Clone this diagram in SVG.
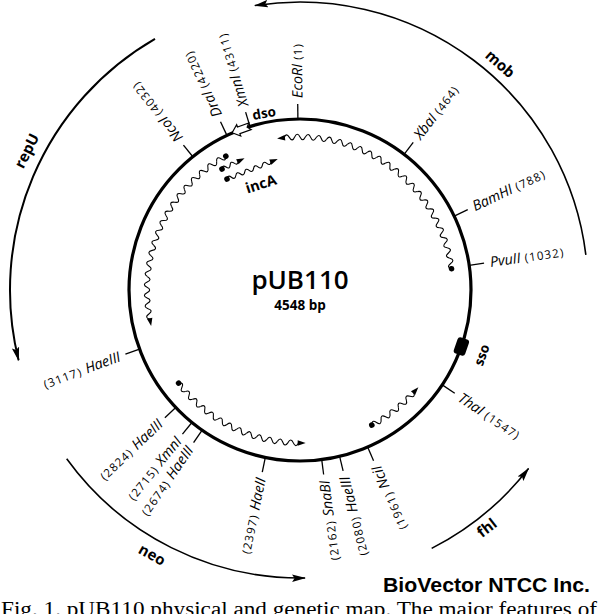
<svg xmlns="http://www.w3.org/2000/svg" xmlns:xlink="http://www.w3.org/1999/xlink" width="598" height="614" viewBox="0 0 598 614">
<style>
.lbl{font-family:"Open Sans","DejaVu Sans",sans-serif;font-size:14.3px;fill:#000}
.nm{font-style:italic}
.num{font-size:11.5px;letter-spacing:1.2px;font-style:normal}
.bold{font-family:"Open Sans","DejaVu Sans",sans-serif;font-weight:bold;fill:#000}
.tick{stroke:#000;stroke-width:1.3;fill:none}
.gene{stroke:#000;stroke-width:1.6;fill:none;marker-end:url(#ga)}
.wave{stroke:#000;stroke-width:1.1;fill:none}
</style>
<defs>
<marker id="ga" markerUnits="userSpaceOnUse" markerWidth="15" markerHeight="9" refX="13" refY="4.5" orient="auto">
<path d="M0,0.8 L14,4.5 L0,8.2 L2.5,4.5 Z" fill="#000"/>
</marker>
<path id="wv" d="M294.66 137 Q297.33 131.6 300 137 Q302.67 142.4 305.34 137" class="wave"/>
<path id="ta" d="M-1,-2.8 L7,0 L-1,2.8 Z" fill="#000"/>
</defs>
<rect width="598" height="614" fill="#fff"/>

<!-- gene arcs -->
<g id="connectors">
<path id="arc-mob" class="gene" d="M585.85 254.9 A288 288 0 0 0 254.95 5.55"/>
<path id="arc-repU" class="gene" style="stroke-width:2" d="M155 38.85 A290 290 0 0 0 18.61 360.16"/>
<path id="arc-neo" class="gene" d="M66.69 458.84 A288 288 0 0 0 305.03 577.96"/>
<path id="arc-fhl" class="gene" d="M431.66 548.39 A290 290 0 0 0 528.52 468.54"/>
</g>

<!-- plasmid backbone -->
<g id="backbone">
<circle cx="300" cy="290" r="171" fill="none" stroke="#000" stroke-width="3.2"/>
</g>

<!-- restriction sites -->
<g id="sites">
<g id="site-EcoRI"><line class="tick" x1="300" y1="119" x2="300" y2="104" transform="rotate(-0.7 300 290)"/>
<text class="lbl" x="492" y="294.8" transform="rotate(-90.7 300 290)"><tspan class="nm">EcoRI</tspan><tspan class="num"> (1)</tspan></text></g>
<g id="site-XbaI"><line class="tick" x1="300" y1="119" x2="300" y2="104" transform="rotate(37.5 300 290)"/>
<text class="lbl" x="492" y="294.8" transform="rotate(-52.5 300 290)"><tspan class="nm">XbaI</tspan><tspan class="num"> (464)</tspan></text></g>
<g id="site-BamHI"><line class="tick" x1="300" y1="119" x2="300" y2="104" transform="rotate(64.4 300 290)"/>
<text class="lbl" x="492" y="294.8" transform="rotate(-25.6 300 290)"><tspan class="nm">BamHI</tspan><tspan class="num"> (788)</tspan></text></g>
<g id="site-PvuII"><line class="tick" x1="300" y1="119" x2="300" y2="104" transform="rotate(81.7 300 290)"/>
<text class="lbl" x="492" y="294.8" transform="rotate(-8.3 300 290)"><tspan class="nm">PvuII</tspan><tspan class="num"> (1032)</tspan></text></g>
<g id="site-ThaI"><line class="tick" x1="300" y1="119" x2="300" y2="104" transform="rotate(123.7 300 290)"/>
<text class="lbl" x="492" y="294.8" transform="rotate(33.7 300 290)"><tspan class="nm">ThaI</tspan><tspan class="num"> (1547)</tspan></text></g>
<g id="site-NciI"><line class="tick" x1="300" y1="119" x2="300" y2="104" transform="rotate(156.7 300 290)"/>
<text class="lbl" x="108" y="294.8" text-anchor="end" transform="rotate(246.7 300 290)"><tspan class="num">(1961) </tspan><tspan class="nm">NciI</tspan></text></g>
<g id="site-HaeIII-2080"><line class="tick" x1="300" y1="119" x2="300" y2="104" transform="rotate(166.6 300 290)"/>
<text class="lbl" x="108" y="294.8" text-anchor="end" transform="rotate(256.6 300 290)"><tspan class="num">(2080) </tspan><tspan class="nm">HaeIII</tspan></text></g>
<g id="site-SnaBI"><line class="tick" x1="300" y1="119" x2="300" y2="104" transform="rotate(172.7 300 290)"/>
<text class="lbl" x="108" y="294.8" text-anchor="end" transform="rotate(262.7 300 290)"><tspan class="num">(2162) </tspan><tspan class="nm">SnaBI</tspan></text></g>
<g id="site-HaeII"><line class="tick" x1="300" y1="119" x2="300" y2="104" transform="rotate(191.7 300 290)"/>
<text class="lbl" x="108" y="294.8" text-anchor="end" transform="rotate(281.7 300 290)"><tspan class="num">(2397) </tspan><tspan class="nm">HaeII</tspan></text></g>
<g id="site-HaeIII-2674"><line class="tick" x1="300" y1="119" x2="300" y2="104" transform="rotate(214.9 300 290)"/>
<text class="lbl" x="108" y="294.8" text-anchor="end" transform="rotate(304.9 300 290)"><tspan class="num">(2674) </tspan><tspan class="nm">HaeIII</tspan></text></g>
<g id="site-XmnI-2715"><line class="tick" x1="300" y1="119" x2="300" y2="104" transform="rotate(219.2 300 290)"/>
<text class="lbl" x="108" y="294.8" text-anchor="end" transform="rotate(309.2 300 290)"><tspan class="num">(2715) </tspan><tspan class="nm">XmnI</tspan></text></g>
<g id="site-HaeIII-2824"><line class="tick" x1="300" y1="119" x2="300" y2="104" transform="rotate(226.6 300 290)"/>
<text class="lbl" x="108" y="294.8" text-anchor="end" transform="rotate(316.6 300 290)"><tspan class="num">(2824) </tspan><tspan class="nm">HaeIII</tspan></text></g>
<g id="site-HaeIII-3117"><line class="tick" x1="300" y1="119" x2="300" y2="104" transform="rotate(249.8 300 290)"/>
<text class="lbl" x="108" y="294.8" text-anchor="end" transform="rotate(339.8 300 290)"><tspan class="num">(3117) </tspan><tspan class="nm">HaeIII</tspan></text></g>
<g id="site-NcoI"><line class="tick" x1="300" y1="119" x2="300" y2="104" transform="rotate(321.2 300 290)"/>
<text class="lbl" x="492" y="294.8" transform="rotate(231.2 300 290)"><tspan class="nm">NcoI</tspan><tspan class="num"> (4032)</tspan></text></g>
<g id="site-DraI"><line class="tick" x1="300" y1="119" x2="300" y2="104" transform="rotate(334.7 300 290)"/>
<text class="lbl" x="492" y="294.8" transform="rotate(244.7 300 290)"><tspan class="nm">DraI</tspan><tspan class="num"> (4220)</tspan></text></g>
<g id="site-XmnI-4311"><line class="tick" x1="300" y1="119" x2="300" y2="104" transform="rotate(343 300 290)"/>
<text class="lbl" x="492" y="294.8" transform="rotate(253 300 290)"><tspan class="nm">XmnI</tspan><tspan class="num"> (4311)</tspan></text></g>
</g>

<!-- origins -->
<g id="dso">
<path d="M-10,0 L-3,-6 L-3,-3.5 L9,-3.5 L6,0 L9,3.5 L-3,3.5 L-3,6 Z" fill="#fff" stroke="#000" stroke-width="1.2" transform="rotate(340 300 290) translate(300 119)"/>
<text class="bold" x="264" y="118" font-size="13.5" text-anchor="middle" transform="rotate(-10 264 113)">dso</text>
</g>
<g id="sso">
<rect x="-8.5" y="-6" width="17" height="12" rx="3" fill="#000" transform="rotate(109.3 300 290) translate(300 119)"/>
<text class="bold" x="482" y="359.5" font-size="13.5" text-anchor="middle" transform="rotate(-70 482 355)">sso</text>
</g>

<!-- transcripts -->
<g id="transcript-mob">
<use xlink:href="#wv" transform="rotate(-4 300 290)"/><use xlink:href="#wv" transform="rotate(0 300 290)"/>
<use xlink:href="#wv" transform="rotate(4 300 290)"/><use xlink:href="#wv" transform="rotate(8 300 290)"/>
<use xlink:href="#wv" transform="rotate(12 300 290)"/><use xlink:href="#wv" transform="rotate(16 300 290)"/>
<use xlink:href="#wv" transform="rotate(20 300 290)"/><use xlink:href="#wv" transform="rotate(24 300 290)"/>
<use xlink:href="#wv" transform="rotate(28 300 290)"/><use xlink:href="#wv" transform="rotate(32 300 290)"/>
<use xlink:href="#wv" transform="rotate(36 300 290)"/><use xlink:href="#wv" transform="rotate(40 300 290)"/>
<use xlink:href="#wv" transform="rotate(44 300 290)"/><use xlink:href="#wv" transform="rotate(48 300 290)"/>
<use xlink:href="#wv" transform="rotate(52 300 290)"/><use xlink:href="#wv" transform="rotate(56 300 290)"/>
<use xlink:href="#wv" transform="rotate(60 300 290)"/><use xlink:href="#wv" transform="rotate(64 300 290)"/>
<use xlink:href="#wv" transform="rotate(68 300 290)"/><use xlink:href="#wv" transform="rotate(72 300 290)"/>
<use xlink:href="#wv" transform="rotate(76 300 290)"/><use xlink:href="#wv" transform="rotate(80 300 290)"/>
<use xlink:href="#ta" transform="rotate(-6 300 290) translate(300 137) scale(-1 1)"/>
<circle cx="300" cy="137" r="2.8" transform="rotate(82 300 290)"/>
</g>
<g id="transcript-repU">
<use xlink:href="#wv" transform="rotate(261 300 290)"/><use xlink:href="#wv" transform="rotate(265 300 290)"/>
<use xlink:href="#wv" transform="rotate(269 300 290)"/><use xlink:href="#wv" transform="rotate(273 300 290)"/>
<use xlink:href="#wv" transform="rotate(277 300 290)"/><use xlink:href="#wv" transform="rotate(281 300 290)"/>
<use xlink:href="#wv" transform="rotate(285 300 290)"/><use xlink:href="#wv" transform="rotate(289 300 290)"/>
<use xlink:href="#wv" transform="rotate(293 300 290)"/><use xlink:href="#wv" transform="rotate(297 300 290)"/>
<use xlink:href="#wv" transform="rotate(301 300 290)"/><use xlink:href="#wv" transform="rotate(305 300 290)"/>
<use xlink:href="#wv" transform="rotate(309 300 290)"/><use xlink:href="#wv" transform="rotate(313 300 290)"/>
<use xlink:href="#wv" transform="rotate(317 300 290)"/><use xlink:href="#wv" transform="rotate(321 300 290)"/>
<use xlink:href="#wv" transform="rotate(325 300 290)"/><use xlink:href="#wv" transform="rotate(329 300 290)"/>
<use xlink:href="#ta" transform="rotate(259 300 290) translate(300 137) scale(-1 1)"/>
<circle cx="300" cy="137" r="2.8" transform="rotate(331 300 290)"/>
</g>
<g id="transcript-neo">
<use xlink:href="#wv" transform="rotate(182.5 300 290)"/><use xlink:href="#wv" transform="rotate(186.5 300 290)"/>
<use xlink:href="#wv" transform="rotate(190.5 300 290)"/><use xlink:href="#wv" transform="rotate(194.5 300 290)"/>
<use xlink:href="#wv" transform="rotate(198.5 300 290)"/><use xlink:href="#wv" transform="rotate(202.5 300 290)"/>
<use xlink:href="#wv" transform="rotate(206.5 300 290)"/><use xlink:href="#wv" transform="rotate(210.5 300 290)"/>
<use xlink:href="#wv" transform="rotate(214.5 300 290)"/><use xlink:href="#wv" transform="rotate(218.5 300 290)"/>
<use xlink:href="#wv" transform="rotate(222.5 300 290)"/><use xlink:href="#wv" transform="rotate(226.5 300 290)"/>
<use xlink:href="#wv" transform="rotate(230.5 300 290)"/>
<use xlink:href="#ta" transform="rotate(180.5 300 290) translate(300 137) scale(-1 1)"/>
<circle cx="300" cy="137" r="2.8" transform="rotate(232.5 300 290)"/>
</g>
<g id="transcript-fhl">
<use xlink:href="#wv" transform="rotate(134 300 290)"/><use xlink:href="#wv" transform="rotate(138 300 290)"/>
<use xlink:href="#wv" transform="rotate(142 300 290)"/><use xlink:href="#wv" transform="rotate(146 300 290)"/>
<use xlink:href="#wv" transform="rotate(150 300 290)"/>
<use xlink:href="#ta" transform="rotate(132 300 290) translate(300 137) scale(-1 1)"/>
<circle cx="300" cy="137" r="2.8" transform="rotate(152 300 290)"/>
</g>
<g id="transcripts-incA">
<g transform="translate(222 169) rotate(-25.6)">
<path class="wave" d="M0 0 q2.25 -4 4.5 0 t4.5 0 t4.5 0 t4.5 0"/>
<use xlink:href="#ta" transform="translate(18 0)"/>
<circle cx="0" cy="0" r="2.8"/>
</g>
<g transform="translate(227 179) rotate(-21.4)">
<path class="wave" d="M0 0 q2.375 -4 4.75 0 t4.75 0 t4.75 0 t4.75 0 t4.75 0 t4.75 0 t4.75 0 t4.75 0 t4.75 0 t4.75 0"/>
<use xlink:href="#ta" transform="translate(47.5 0)"/>
<circle cx="0" cy="0" r="2.8"/>
</g>
<text class="bold" x="261" y="189" font-size="14.5" text-anchor="middle" transform="rotate(-18 261 184)">incA</text>
</g>

<!-- gene labels -->
<g id="gene-labels">
<text class="bold" x="500" y="69" font-size="15" text-anchor="middle" transform="rotate(41.5 500 64)">mob</text>
<text class="bold" x="27" y="156" font-size="15" text-anchor="middle" transform="rotate(-63 27 151)">repU</text>
<text class="bold" x="152" y="560" font-size="15" text-anchor="middle" transform="rotate(29 152 555)">neo</text>
<text class="bold" x="487" y="533" font-size="15" text-anchor="middle" transform="rotate(-38 487 528)">fhl</text>
</g>

<!-- center -->
<g id="title">
<text x="300" y="289" font-family="Open Sans, DejaVu Sans, sans-serif" font-size="26" font-weight="600" text-anchor="middle">pUB110</text>
<text class="bold" x="300" y="310" font-size="13.5" text-anchor="middle">4548 bp</text>
</g>

<text class="bold" x="383" y="592" font-size="21" textLength="207" lengthAdjust="spacingAndGlyphs" style="font-family:'Liberation Sans','Open Sans',sans-serif">BioVector NTCC Inc.</text>
<text x="1" y="616" font-family="Liberation Serif, serif" font-size="20" textLength="596" lengthAdjust="spacingAndGlyphs">Fig. 1. pUB110 physical and genetic map. The major features of</text>
</svg>
